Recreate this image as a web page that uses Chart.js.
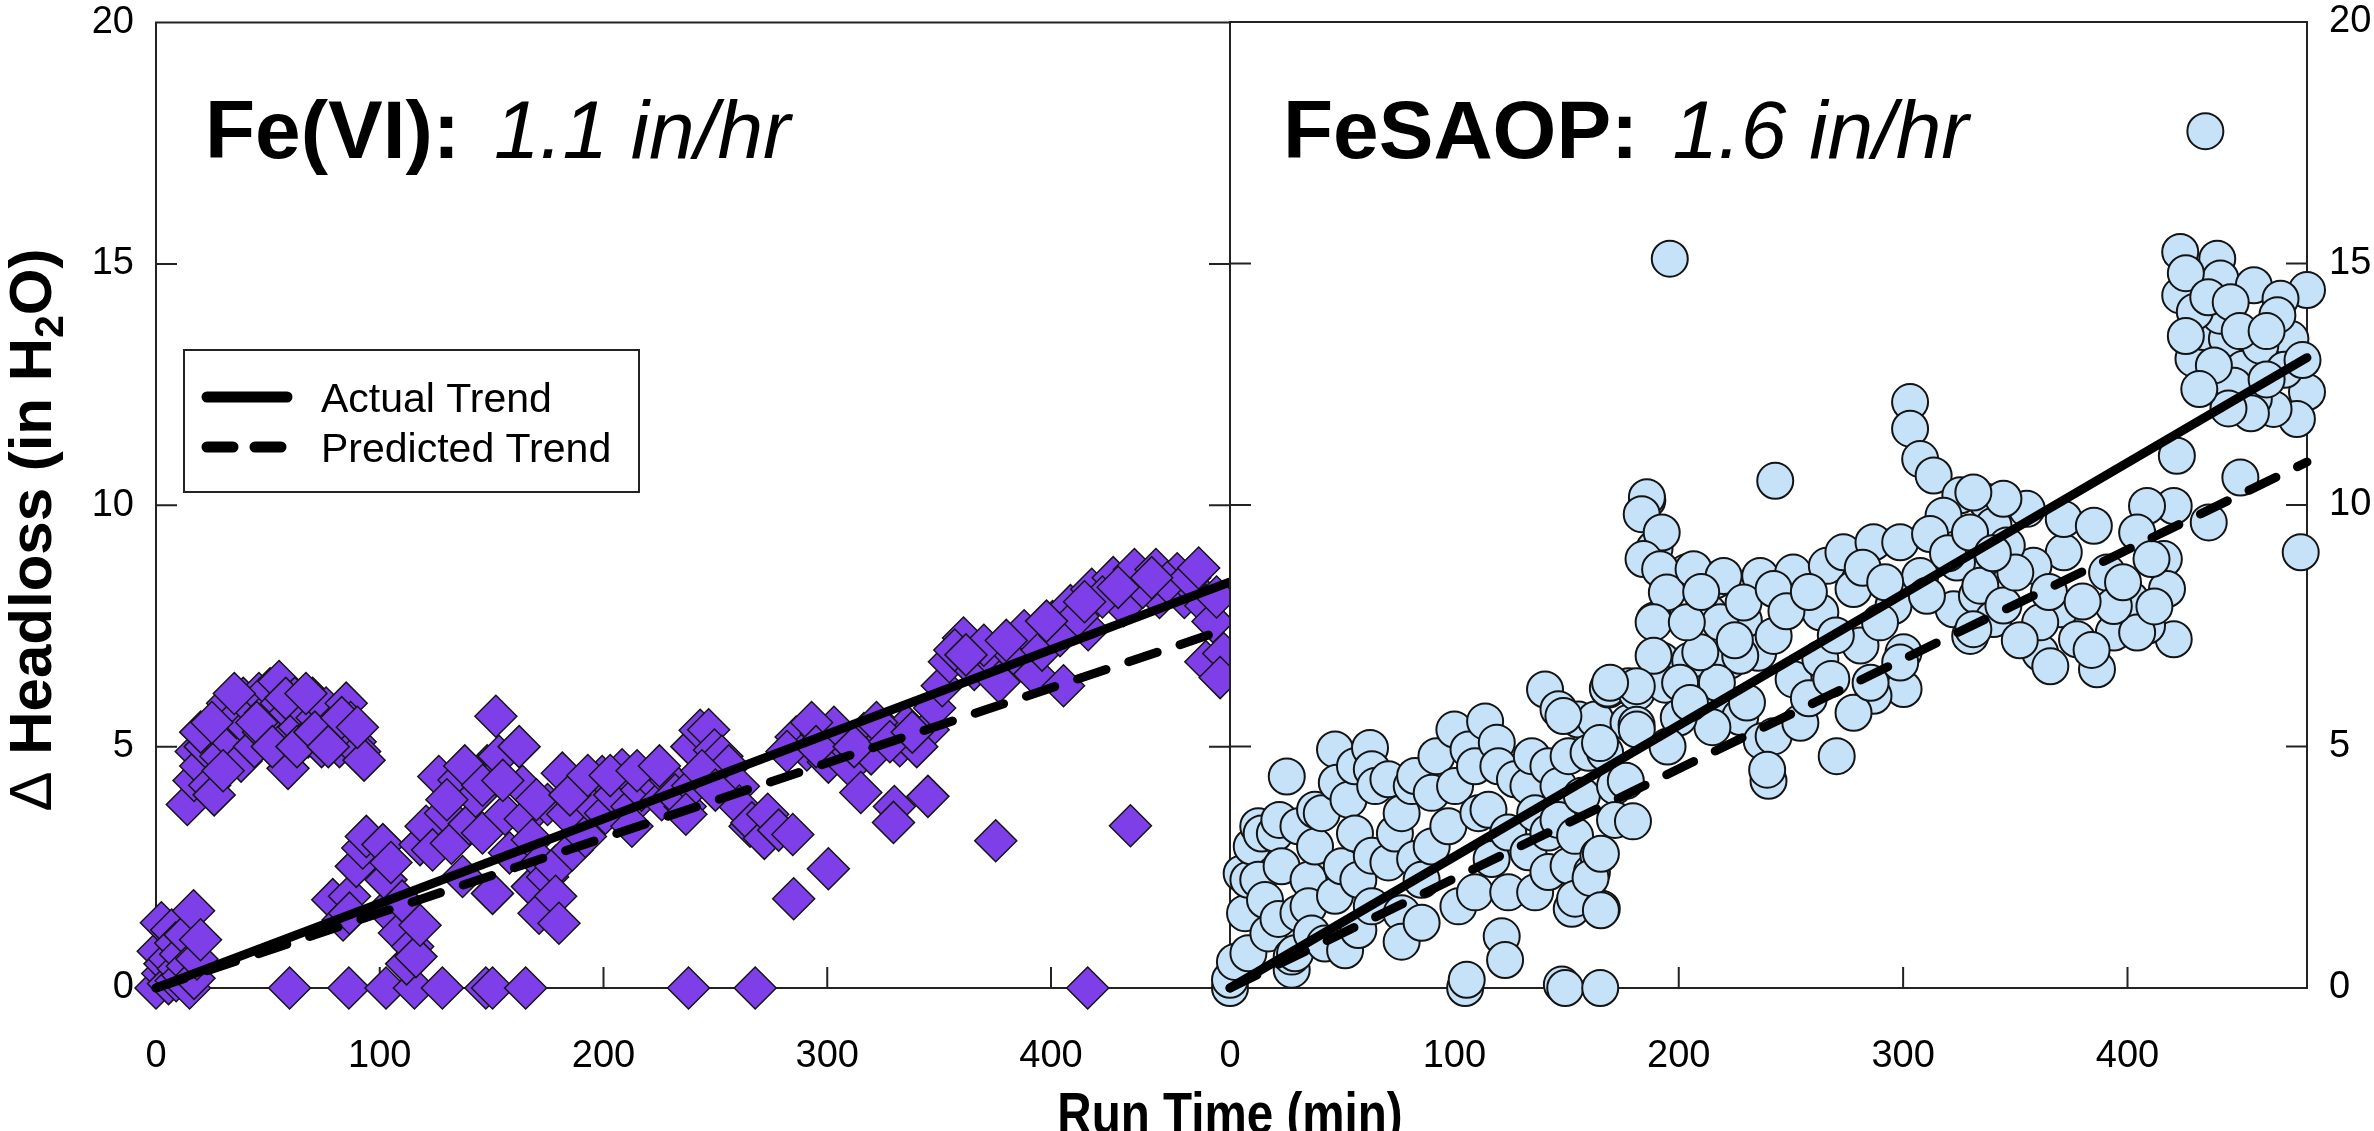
<!DOCTYPE html>
<html>
<head>
<meta charset="utf-8">
<title>Headloss Fe(VI) x FeSAOP</title>
<script src="https://cdn.jsdelivr.net/npm/chart.js@4.4.1/dist/chart.umd.min.js"></script>
<style>
    html, body { margin: 0; padding: 0; background: #fff; }
    #wrap { position: relative; width: 2374px; height: 1131px; overflow: hidden; }
    #wrap canvas { position: absolute; left: 0; top: 0; }
</style>
</head>
<body>
<div id="wrap">
    <canvas id="chart-fevi" width="2374" height="1131"></canvas>
    <canvas id="chart-fesaop" width="2374" height="1131"></canvas>
</div>
<script>
// Eixos
const xTicks = [0, 100, 200, 300, 400];
const yTicks = [0, 5, 10, 15, 20];
const xMax = 480;

// Textos
const panelNames = ['Fe(VI):', 'FeSAOP:'];
const panelRates = ['1.1 in/hr', '1.6 in/hr'];
const legendLabels = ['Actual Trend', 'Predicted Trend'];
const xTitle = 'Run Time (min)';

// Linhas de tendencia (inicio e fim)
const feviActual = [[0, 0], [480, 8.41]];
const feviPredicted = [[0, 0], [480, 7.46]];
const fesaopActual = [[0, 0], [480, 13.05]];
const fesaopPredicted = [[0, 0], [480, 10.89]];

// Pontos Fe(VI) (losangos)
const feviPoints = [
    [0,0],[1,0.76],[2.4,1.35],[3,0.3],[4,0.5],[5.6,0.09],[6,0.6],[7,1.2],[8.8,0.93],[9,0.15],
    [10,0.4],[11,0.7],[12,0.26],[13,1.1],[14,0.45],[15,0],[16.8,1.6],[17,0.2],[18.3,0.6],[19.9,1.0],
    [14,3.8],[17,4.3],[18,4.9],[20,4.6],[22,5.0],[24,4.2],[26,4.0],[27,5.2],[29,4.8],[31,5.5],
    [32,5.9],[34,5.1],[36,5.6],[38,4.7],[39,6.0],[41,5.4],[43,5.8],[44,5.0],[46,6.1],[48,5.3],
    [49,5.7],[51,6.2],[53,5.5],[55,6.35],[56,5.9],[57,5.1],[59,4.55],[60,5.7],[62,6.0],[64,5.4],
    [66,5.8],[68,5.2],[70,6.0],[72,5.6],[74,5.0],[76,5.8],[78,5.4],[80,5.2],[82,5.0],[85,5.9],
    [87,5.5],[89,5.1],[91,4.9],[93,4.72],
    [20,5.3],[25,5.5],[30,4.5],[35,6.1],[45,5.5],[52,5.0],[58,6.0],[63,5.0],[67,6.1],[71,5.3],
    [77,5.0],[83,5.6],[90,5.4],
    [59.7,0],[86.2,0],[102.8,0],[115.5,0],[128,0],[147.4,0],[150.4,0],[165.2,0],[238,0],[267.8,0],[416.4,0],
    [79,1.83],[83.6,1.41],[86.5,1.9],[86.5,1.55],[89.5,2.52],[92.4,2.9],[94,3.14],[101.4,2.97],[102.8,1.62],[102.8,2.24],
    [105,2.6],[108.8,1.14],[110,1.8],[112,0.5],[114.7,0.86],[116.2,0.65],[118,2.97],[118,1.3],[120.7,3.35],[123.6,2.86],
    [126.4,4.38],[129.4,3.62],[132,3.0],[135.4,4.31],[137,2.31],[140,3.4],[142.9,3.97],[145.9,3.21],[148,4.6],[150.4,1.96],
    [151.9,5.63],[153.3,4.8],[156,3.6],[158,2.8],[162.3,5.0],[163.8,4.18],[165,3.5],[168.2,3.07],[168.2,2.1],[171.2,1.55],
    [172,2.6],[175,3.8],[175,2.3],[178.6,2.52],[178.6,1.9],[180.1,1.34],[181.6,4.45],[184,3.6],[186,2.86],[190.5,4.11],
    [191.9,3.14],[195,3.8],[199.4,4.38],[200.9,3.62],[205,4.0],[208.3,4.52],[212.7,3.76],[212.7,3.35],[217,4.1],[221.7,4.31],
    [226,3.9],[230,4.3],[236.5,3.76],
    [130,3.9],[138,4.6],[146,4.2],[155,4.3],[170,3.9],[185,4.0],[193,4.4],[203,4.4],[215,4.5],[225,4.6],[232,4.0],
    [239.5,5.0],[239.9,4.19],[243.2,5.34],[247,5.35],[249.6,4.93],[252.9,4.8],[256,4.6],[260.3,4.18],[260.7,3.77],[265.5,3.35],
    [266.3,3.42],[271.9,3.1],[273.4,3.6],[278.3,3.27],[284.6,3.18],[236.8,3.6],[244,4.5],[250,4.1],
    [286.1,5.2],[290.9,4.93],[297.3,5.27],[300.5,4.68],[306.9,5.1],[310.1,4.6],[316.4,5.27],[319.6,4.85],[326,5.35],[332.4,5.02],
    [335.6,5.43],[345.1,5.35],[340,5.0],[322,5.5],[303,5.4],[293,5.5],
    [282,4.9],[295,5.0],[312,5.0],[328,5.1],[338,5.3],[348,5.8],
    [351.4,6.26],[354.6,6.76],[360.9,7.25],[365.7,6.6],[373.6,6.84],[376.8,6.34],[383.2,6.93],[392.7,7.17],[392.7,6.5],[400.7,7.59],
    [408.7,7.92],[416.6,7.42],[418.2,8.26],[427.8,8.5],[432.5,7.92],[437.3,8.67],[446.9,8.67],[448.5,8.09],[456.4,8.58],[459.6,8.09],
    [464.4,8.26],[469.2,7.92],[472.4,7.59],[469.2,6.76],[477.2,6.93],[475.6,6.43],[357,7.0],[370,7.1],[388,7.4],[396,7.0],
    [404,7.3],[412,7.7],[423,8.1],[441,8.3],[452,8.4],[462,8.5],
    [362,6.9],[380,7.2],[398,7.6],[415,8.0],[430,8.3],[445,8.5],[466,8.7],[474,8.1],
    [285,1.85],[300.5,2.47],[315,4.05],[330,3.76],[329.6,3.43],[345,3.97],[375.3,3.05],[435.5,3.36],[405.6,6.26]
];

// Pontos FeSAOP (circulos)
const fesaopPoints = [
    [0,0],[0,0.17],[2.2,0.54],[5.2,2.37],[6.7,1.55],[8.2,2.24],[8.2,0.72],[9.7,2.93],[12.6,2.24],[12.6,3.35],
    [14.1,3.2],[15.6,1.82],[17.1,1.13],[20,3.2],[21.6,1.43],[22,3.48],[23,2.52],[25.3,4.38],[27.5,0.38],[27.5,0.65],
    [29,0.72],[30.5,1.55],[30.5,3.35],[35,2.24],[35,1.69],[36.4,1.13],[37.9,2.93],[37.9,3.69],[40.9,3.62],[42.3,0.92],
    [46.8,4.94],[46.8,1.91],[47.6,4.25],[49.8,2.52],[51.3,0.78],[52.8,3.9],[55.7,3.2],[55.7,4.59],[57.2,1.2],[57.2,2.24],
    [62.4,4.97],[63.2,4.53],[63.2,1.69],[63.2,2.74],[64.7,4.18],[70.6,2.6],[70.6,4.32],[73.5,3.2],[76.5,3.62],[76.5,1.55],
    [76.5,0.96],[81,4.18],[82.5,2.67],[82.5,4.39],[85.4,2.24],[85.4,1.35],[89.9,2.93],[89.9,4.04],[92,4.8],[97.3,3.35],
    [100,5.35],[100.3,4.18],[101.8,1.69],[104.8,0],[105.5,0.17],[106.3,4.94],[109.2,1.98],[109.2,4.59],[110.7,3.62],[113.7,5.52],
    [115.2,3.69],[116.6,2.67],[118.9,5.08],[119.6,4.59],[121.1,1.07],[122.6,0.58],[124,1.98],[124,3.22],[127,4.32],[133,2.81],
    [133,4.18],[134.5,4.8],[136,1.98],[136,3.62],[140.4,6.18],[141.9,2.4],[141.9,3.22],[141.9,4.59],[146.4,5.77],[146.4,4.18],
    [146.4,3.48],[147.9,0.07],[149.4,0],[150.9,2.53],[150.9,4.8],[152.3,1.64],[153.8,3.15],[153.8,1.85],[155.3,5.56],[156.8,3.98],
    [159.8,4.87],[161.3,2.4],[162.8,5.56],[164.2,2.74],[165,0],[165.7,1.64],[167.2,4.87],[168.7,6.18],[171.6,4.18],[171.6,3.48],
    [177.6,6.25],[177.6,5.49],
    [160.7,2.28],[165.3,2.78],[165.3,1.61],[168.4,6.2],[176.4,4.29],[179.6,3.45],[181.2,6.12],[181.2,5.45],[186,10.1],[189.2,9.1],
    [195.6,8.44],[189.2,7.61],[192.4,6.78],[203.5,8.61],[216.3,8.44],[213.1,7.78],[229,7.61],[235.4,6.94],[222.6,6.78],[205.1,6.78],
    [194,6.28],[216.3,5.95],[227.4,5.61],[237,5.11],[240,4.29],
    [243,10.5],[185.8,10.16],[183.5,9.81],[192.4,9.43],[184.3,8.88],[191.7,8.67],[194.7,8.19],[188.8,7.57],[188.8,6.88],[200.6,6.32],
    [206.6,8.67],[220,8.53],[236.3,8.53],[251,8.6],[266,8.74],[273.4,9.02],[286.8,9.23],[298.7,9.23],[303.1,12.13],[303.1,11.58],
    [307.6,10.95],[313.6,10.61],[325.5,10.2],[337.4,10.06],[340.3,9.57],[334.4,8.81],[322.5,7.84],[329.9,7.29],[307.6,8.53],[295.7,7.91],
    [300.2,6.95],[300.2,6.19],[286.8,6.05],[277.9,5.7],[270.4,4.8],[263.1,7.78],[242.3,7.29],[227.4,6.88],[217,6.32],[209.6,6.95],
    [218.5,7.57],[203.6,7.57],[230.4,5.91],[242.3,5.21],[254.2,5.49],[251.2,6.39],[281,7.09],[285.5,6.32],[298.7,6.74],[289.7,7.57],
    [277.9,8.26],[263.1,6.81],[239.4,4.52],[181.3,5.35],[181.3,6.25],[169.4,6.32],[164.9,5.07],[148.6,5.63],[228.9,7.98],[242.3,8.26],
    [318,9.78],[329.9,9.36],[324,8.81],[310.6,8.12],[332.9,8.12],[340.3,7.64],
    [210,8.2],[225,7.2],[248,7.8],[258,8.2],[270,7.3],[282,8.7],[292,8.4],[312,9.4],[320,9.0],[258,6.0],
    [268,6.4],[215,5.4],[200,5.6],[195,5.0],[205,5.9],
    [423.5,15.24],[440,15.1],[423.5,14.34],[441.4,14.69],[456.3,14.55],[480,14.45],[468.2,14.27],[472.6,13.44],[429.4,13.03],[433.9,13.58],
    [444.3,13.44],[451.7,12.82],[459.2,13.3],[441.3,13.92],[466.8,13.93],[480,12.34],[475.5,11.78],[465.1,11.99],[456.3,12.2],[447.4,12.47],
    [438.5,12.89],[422,11.02],[450.3,10.57],[477.2,9.02],[436.2,9.64],[420.6,9.98],[408.7,9.98],[404.3,9.43],[416.2,8.88],[417.6,8.26],
    [420.6,7.22],[408.7,7.5],[401.3,8.05],[386.4,6.6],[370.1,7.84],[361.1,6.94],[377.5,7.22],[393.9,7.36],[390.9,8.6],[371.6,9.02],
    [371.6,9.71],[385,9.57],[358.1,8.74],[355.1,9.92],[344.7,10.13],[331.3,10.26],[329.8,9.43],[346.2,9.16],[334.4,8.33],[331.3,7.43],
    [344.7,7.92],[404.3,7.36],[393.9,7.91],[410.7,8.88],[365.6,6.66],[361.1,7.57],
    [426,14.8],[430,14.0],[436,14.3],[446,14.2],[450,13.6],[462,13.6],[470,12.8],[478,13.0],[462,12.6],[455,11.9],
    [445,12.0],[432,12.4],[426,13.5],
    [350,8.6],[365,8.2],[380,8.0],[398,8.4],[412,7.9],[384,7.0],[352,7.2],[340,9.0],
    [196,15.1],[434.7,17.74]
];

// Layout da figura (pixels)
const W = 2374, H = 1131;
const PLOT_TOP = 22, PLOT_BOTTOM = 988;
const LEFT_X = 156, MID_X = 1230, RIGHT_X = 2307;
const TICK_LEN = 21;
const FONT = "'Liberation Sans', Arial, sans-serif";

Chart.defaults.font.family = FONT;

const toXY = arr => arr.map(([x, y]) => ({ x, y }));

// Moldura e ticks para dentro
const framePlugin = {
    id: 'frame',
    beforeDatasetsDraw(chart) {
        const { ctx, chartArea: a, scales: { x, y } } = chart;
        ctx.save();
        ctx.strokeStyle = '#222';
        ctx.lineWidth = 2;
        ctx.strokeRect(a.left, a.top, a.right - a.left, a.bottom - a.top);
        ctx.beginPath();
        x.ticks.forEach(t => {
            if (t.value === 0) return;
            const px = x.getPixelForValue(t.value);
            ctx.moveTo(px, a.bottom);
            ctx.lineTo(px, a.bottom - TICK_LEN);
        });
        y.ticks.forEach(t => {
            if (t.value === 0 || t.value === 20) return;
            const py = y.getPixelForValue(t.value);
            ctx.moveTo(a.left, py);
            ctx.lineTo(a.left + TICK_LEN, py);
            ctx.moveTo(a.right, py);
            ctx.lineTo(a.right - TICK_LEN, py);
        });
        ctx.stroke();
        ctx.restore();
    }
};

function drawPanelTitle(ctx, x, name, rate) {
    ctx.save();
    ctx.fillStyle = '#000';
    ctx.textBaseline = 'alphabetic';
    ctx.font = `bold 82px ${FONT}`;
    ctx.fillText(name, x, 158);
    const w = ctx.measureText(name).width;
    ctx.font = `italic 82px ${FONT}`;
    ctx.fillText(rate, x + w + 34, 158);
    ctx.restore();
}

// Legenda desenhada dentro do painel esquerdo
function drawLegend(ctx) {
    ctx.save();
    ctx.fillStyle = '#fff';
    ctx.fillRect(184, 350, 455, 142);
    ctx.strokeStyle = '#222';
    ctx.lineWidth = 2;
    ctx.strokeRect(184, 350, 455, 142);

    ctx.strokeStyle = '#000';
    ctx.lineWidth = 11;
    ctx.lineCap = 'round';
    ctx.beginPath();
    ctx.moveTo(207, 397);
    ctx.lineTo(287, 397);
    ctx.stroke();
    ctx.setLineDash([26, 22]);
    ctx.beginPath();
    ctx.moveTo(207, 447);
    ctx.lineTo(287, 447);
    ctx.stroke();
    ctx.setLineDash([]);

    ctx.fillStyle = '#000';
    ctx.font = `41px ${FONT}`;
    ctx.fillText(legendLabels[0], 321, 412);
    ctx.fillText(legendLabels[1], 321, 462);
    ctx.restore();
}

// Titulo do eixo Y: "Δ Headloss (in H2O)" com 2 subscrito
function drawYTitle(ctx) {
    const runs = [
        { t: '\u0394 ', f: `60px ${FONT}`, dy: 0 },
        { t: 'Headloss (in H', f: `bold 60px ${FONT}`, dy: 0 },
        { t: '2', f: `bold 41px ${FONT}`, dy: 12 },
        { t: 'O)', f: `bold 60px ${FONT}`, dy: 0 }
    ];
    ctx.save();
    let total = 0;
    runs.forEach(r => { ctx.font = r.f; r.w = ctx.measureText(r.t).width; total += r.w; });
    ctx.translate(51, 530 + total / 2);
    ctx.rotate(-Math.PI / 2);
    ctx.fillStyle = '#000';
    let px = 0;
    runs.forEach(r => {
        ctx.font = r.f;
        ctx.fillText(r.t, px, r.dy);
        px += r.w;
    });
    ctx.restore();
}

function drawXTitle(ctx) {
    ctx.save();
    ctx.translate(MID_X, 1133);
    ctx.scale(0.82, 1);
    ctx.fillStyle = '#000';
    ctx.textAlign = 'center';
    ctx.font = `bold 58px ${FONT}`;
    ctx.fillText(xTitle, 0, 0);
    ctx.restore();
}

const leftTextPlugin = {
    id: 'leftText',
    afterDraw(chart) {
        const ctx = chart.ctx;
        drawPanelTitle(ctx, 205, panelNames[0], panelRates[0]);
        drawLegend(ctx);
        drawYTitle(ctx);
    }
};

const rightTextPlugin = {
    id: 'rightText',
    afterDraw(chart) {
        const ctx = chart.ctx;
        drawPanelTitle(ctx, 1283, panelNames[1], panelRates[1]);
        drawXTitle(ctx);
    }
};

function buildOptions(isLeft) {
    return {
        responsive: false,
        animation: false,
        devicePixelRatio: 1,
        events: [],
        layout: {
            padding: isLeft
                ? { left: 0, top: PLOT_TOP, right: W - MID_X, bottom: 0 }
                : { left: MID_X, top: PLOT_TOP, right: 0, bottom: 0 }
        },
        plugins: { legend: { display: false }, tooltip: { enabled: false } },
        scales: {
            x: {
                type: 'linear', min: xTicks[0], max: xMax,
                border: { display: false },
                grid: { display: false, drawTicks: false },
                afterBuildTicks(scale) { scale.ticks = xTicks.map(v => ({ value: v })); },
                ticks: { padding: 46, color: '#000', font: { size: 38 }, maxRotation: 0, autoSkip: false },
                afterFit(scale) { scale.height = H - PLOT_BOTTOM; scale.paddingLeft = 0; scale.paddingRight = 0; }
            },
            y: {
                type: 'linear', min: yTicks[0], max: yTicks[yTicks.length - 1],
                position: isLeft ? 'left' : 'right',
                border: { display: false },
                grid: { display: false, drawTicks: false },
                afterBuildTicks(scale) { scale.ticks = yTicks.map(v => ({ value: v })); },
                ticks: { padding: 22, color: '#000', font: { size: 38 }, autoSkip: false },
                afterFit(scale) {
                    scale.width = isLeft ? LEFT_X : W - RIGHT_X;
                    scale.paddingTop = 0;
                    scale.paddingBottom = 0;
                }
            }
        }
    };
}

function trendSet(label, points, dashed, clip) {
    return {
        label: label,
        data: toXY(points),
        showLine: true,
        pointRadius: 0,
        borderColor: '#000',
        borderWidth: 9,
        borderCapStyle: 'round',
        borderDash: dashed ? [30, 24] : [],
        order: 0,
        clip: clip
    };
}

const leftClip = { left: false, top: false, right: 0, bottom: false };

// Painel Fe(VI)
new Chart(document.getElementById('chart-fevi'), {
    type: 'scatter',
    data: {
        datasets: [
            trendSet(legendLabels[0], feviActual, false, leftClip),
            trendSet(legendLabels[1], feviPredicted, true, leftClip),
            {
                label: 'Fe(VI)',
                data: toXY(feviPoints),
                pointStyle: 'rectRot',
                pointRadius: 21,
                backgroundColor: '#7f3fe8',
                borderColor: '#141414',
                borderWidth: 1.5,
                order: 1,
                clip: leftClip
            }
        ]
    },
    options: buildOptions(true),
    plugins: [framePlugin, leftTextPlugin]
});

// Painel FeSAOP
new Chart(document.getElementById('chart-fesaop'), {
    type: 'scatter',
    data: {
        datasets: [
            trendSet(legendLabels[0], fesaopActual, false, false),
            trendSet(legendLabels[1], fesaopPredicted, true, false),
            {
                label: 'FeSAOP',
                data: toXY(fesaopPoints),
                pointStyle: 'circle',
                pointRadius: 18,
                backgroundColor: '#c6e2f8',
                borderColor: '#141414',
                borderWidth: 2,
                order: 1,
                clip: false
            }
        ]
    },
    options: buildOptions(false),
    plugins: [framePlugin, rightTextPlugin]
});
</script>
</body>
</html>
